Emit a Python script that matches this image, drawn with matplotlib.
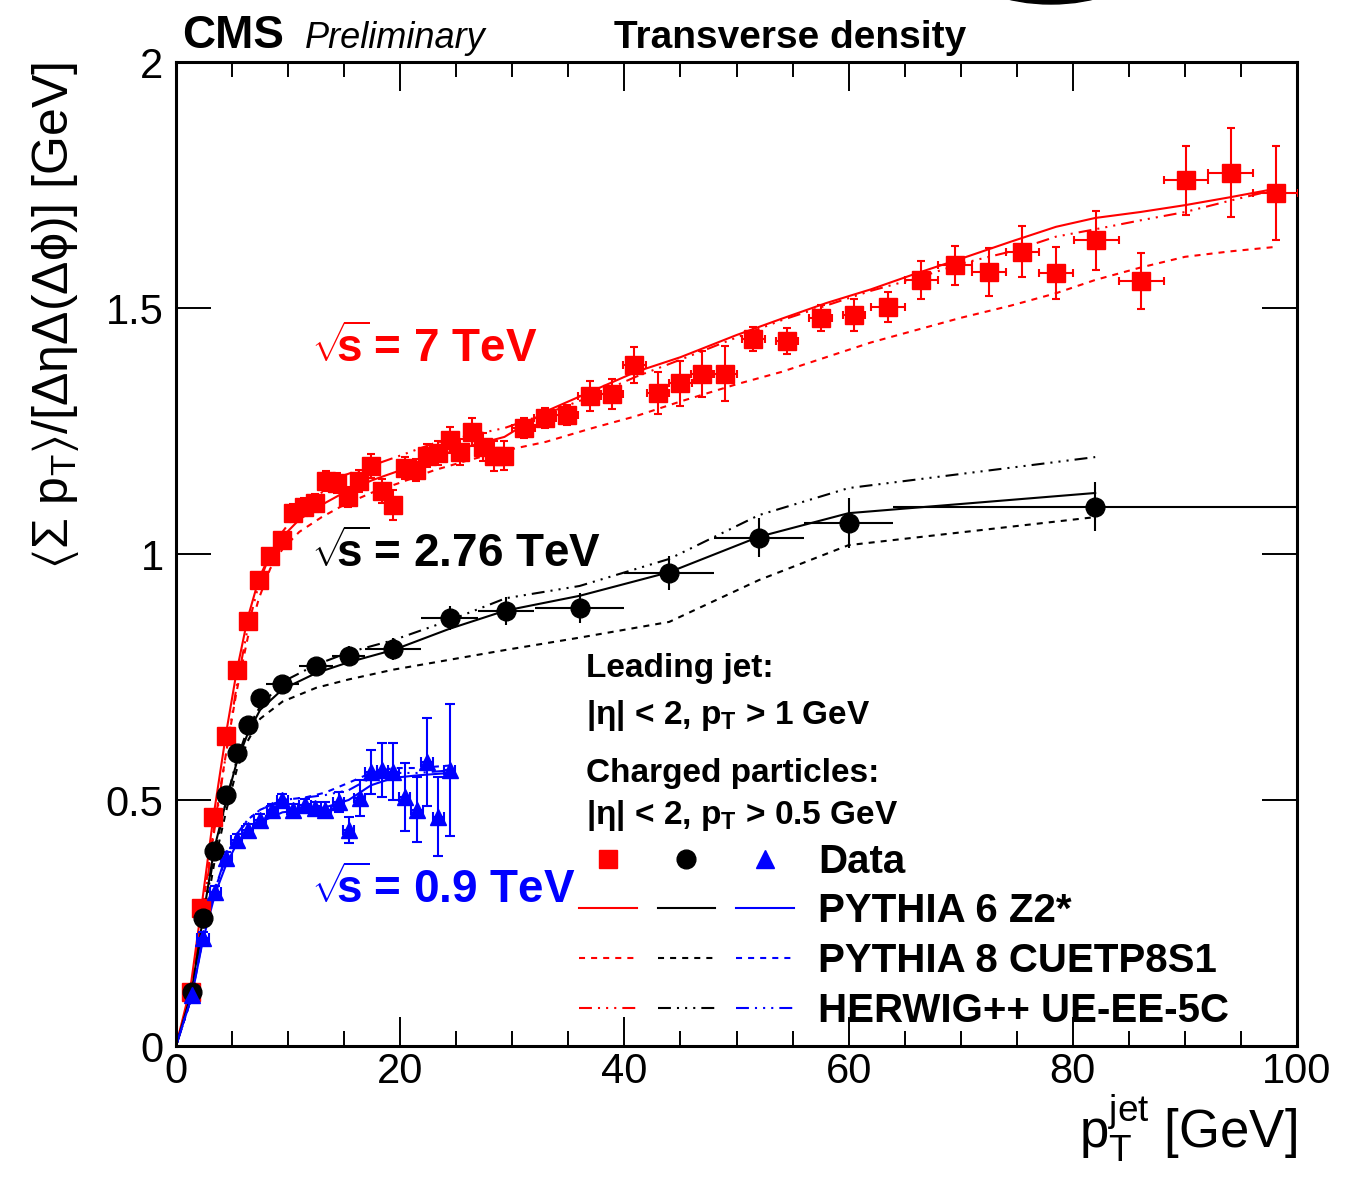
import matplotlib
matplotlib.use("Agg")
import matplotlib.pyplot as plt
from matplotlib.lines import Line2D
from matplotlib.legend_handler import HandlerTuple
from matplotlib.patches import Ellipse

plt.rcParams['font.family'] = ['Liberation Sans', 'DejaVu Sans']
plt.rcParams['mathtext.fontset'] = 'custom'
plt.rcParams['mathtext.rm'] = 'Liberation Sans'
plt.rcParams['mathtext.it'] = 'Liberation Sans:italic'
plt.rcParams['mathtext.bf'] = 'Liberation Sans:bold'
plt.rcParams['mathtext.default'] = 'regular'

# ---- data: 7 TeV (red squares)
x7 = [1.3, 2.2, 3.3, 4.5, 5.4, 6.4, 7.4, 8.4, 9.5,
      10.4, 11.4, 12.4, 13.4, 14.4, 15.3, 16.3, 17.4, 18.4, 19.4,
      20.4, 21.4, 22.4, 23.4, 24.4, 25.3, 26.4, 27.4, 28.4, 29.3,
      31.0, 32.9, 34.9, 36.9, 38.9, 40.9, 43.0, 45.0, 46.9, 49.0,
      51.5, 54.5, 57.5, 60.5, 63.5, 66.5, 69.5, 72.5, 75.5, 78.5,
      82.1, 86.1, 90.1, 94.1, 98.1]
y7 = [0.11, 0.28, 0.465, 0.63, 0.764, 0.864, 0.947, 0.996, 1.028,
      1.083, 1.096, 1.104, 1.148, 1.144, 1.116, 1.148, 1.179, 1.128, 1.10,
      1.175, 1.171, 1.20, 1.205, 1.232, 1.207, 1.248, 1.217, 1.199, 1.20,
      1.256, 1.276, 1.283, 1.321, 1.325, 1.384, 1.327, 1.347, 1.366, 1.366,
      1.437, 1.433, 1.48, 1.486, 1.502, 1.557, 1.587, 1.573, 1.614, 1.571,
      1.638, 1.555, 1.76, 1.775, 1.734]
xe7 = [0.5] * 29 + [1.0] * 14 + [1.5] * 6 + [2.0] * 5
ye7 = [0.012] * 9 + [0.018, 0.018, 0.018, 0.02, 0.02, 0.02, 0.022, 0.025, 0.025, 0.03,
       0.022, 0.022, 0.024, 0.024, 0.026, 0.026, 0.028, 0.028, 0.03, 0.03,
       0.02, 0.02, 0.02, 0.03, 0.03, 0.037, 0.042, 0.046, 0.047, 0.056,
       0.025, 0.027, 0.027, 0.032, 0.03, 0.038, 0.04, 0.048, 0.052, 0.052,
       0.06, 0.057, 0.07, 0.09, 0.095]

# ---- data: 2.76 TeV (black circles)
x276 = [1.4, 2.4, 3.4, 4.5, 5.4, 6.4, 7.5, 9.5, 12.5, 15.4, 19.4, 24.4, 29.4, 36, 44, 52, 60, 82]
y276 = [0.11, 0.26, 0.396, 0.51, 0.596, 0.652, 0.707, 0.736, 0.772, 0.793, 0.807,
        0.87, 0.884, 0.89, 0.961, 1.033, 1.063, 1.096]
xe276 = [0.5] * 7 + [1.5, 1.5, 1.5, 2.5, 2.5, 2.5, 4, 4, 4, 4, 18]
ye276 = [0.01] * 7 + [0.015, 0.017, 0.02, 0.022, 0.025, 0.028, 0.03, 0.035, 0.04, 0.05, 0.05]

# ---- data: 0.9 TeV (blue triangles)
x09 = [1.4, 2.4, 3.5, 4.5, 5.4, 6.4, 7.5, 8.6, 9.5, 10.4, 11.5, 12.4,
       13.3, 14.5, 15.4, 16.4, 17.4, 18.4, 19.4, 20.4, 21.5, 22.4, 23.4, 24.4]
y09 = [0.104, 0.22, 0.313, 0.382, 0.419, 0.439, 0.459, 0.48, 0.50, 0.48, 0.49, 0.484,
       0.48, 0.496, 0.439, 0.504, 0.557, 0.561, 0.557, 0.506, 0.48, 0.577, 0.466, 0.561]
xe09 = [0.5] * 24
ye09 = [0.012] * 12 + [0.015, 0.02, 0.027, 0.037, 0.045, 0.055, 0.058, 0.07, 0.066, 0.09, 0.08, 0.134]

# ---- models 7 TeV
mx7 = [0, 1.3, 2.2, 3.3, 4.5, 5.4, 6.4, 7.4, 8.4, 9.5, 11, 13, 15, 17.5, 20, 23, 26, 29.3,
       33, 37, 41, 45, 50, 54, 58, 62, 66, 70, 74.5, 78.5, 82, 86, 90, 94, 98]
p6_7 = [0, 0.12, 0.27, 0.46, 0.64, 0.76, 0.87, 0.95, 1.0, 1.035, 1.07, 1.1, 1.125, 1.15, 1.17,
        1.197, 1.218, 1.238, 1.29, 1.33, 1.37, 1.40, 1.445, 1.478, 1.51, 1.538, 1.57, 1.60,
        1.635, 1.665, 1.683, 1.695, 1.709, 1.725, 1.742]
p8_7 = [0, 0.11, 0.25, 0.43, 0.6, 0.72, 0.83, 0.91, 0.97, 1.01, 1.045, 1.075, 1.1, 1.125, 1.145,
        1.17, 1.19, 1.21, 1.228, 1.255, 1.28, 1.31, 1.345, 1.37, 1.4, 1.43, 1.455, 1.48,
        1.505, 1.53, 1.557, 1.582, 1.604, 1.615, 1.624]
hw_7 = [0, 0.1, 0.24, 0.42, 0.6, 0.73, 0.85, 0.94, 1.0, 1.045, 1.09, 1.125, 1.16, 1.18, 1.2,
        1.225, 1.24, 1.256, 1.285, 1.32, 1.36, 1.395, 1.44, 1.475, 1.505, 1.535, 1.56, 1.59,
        1.615, 1.645, 1.66, 1.678, 1.695, 1.718, 1.74]

# ---- models 2.76 TeV
mx276 = [0, 1.4, 2.4, 3.4, 4.5, 5.4, 6.4, 7.5, 9.5, 12.5, 15.4, 19.4, 24.4, 29.4, 36, 44, 52, 60, 82]
p6_276 = [0, 0.11, 0.26, 0.40, 0.5, 0.575, 0.635, 0.683, 0.725, 0.758, 0.78, 0.805, 0.848,
          0.885, 0.915, 0.963, 1.035, 1.083, 1.124]
p8_276 = [0, 0.1, 0.24, 0.37, 0.48, 0.56, 0.62, 0.665, 0.70, 0.728, 0.745, 0.765, 0.785,
          0.805, 0.83, 0.862, 0.947, 1.018, 1.075]
hw_276 = [0, 0.1, 0.25, 0.39, 0.5, 0.58, 0.645, 0.69, 0.74, 0.775, 0.80, 0.825, 0.865,
          0.91, 0.935, 0.99, 1.079, 1.134, 1.197]

# ---- models 0.9 TeV
mx09 = [0, 1.4, 2.4, 3.5, 4.5, 5.4, 6.4, 7.5, 9.5, 11.5, 13.3, 15.4, 17.4, 19.4, 21.5, 24.4]
p6_09 = [0, 0.1, 0.215, 0.31, 0.37, 0.41, 0.435, 0.455, 0.475, 0.48, 0.485, 0.50, 0.53,
         0.545, 0.55, 0.555]
p8_09 = [0, 0.1, 0.22, 0.32, 0.385, 0.425, 0.46, 0.48, 0.50, 0.505, 0.515, 0.535, 0.555,
         0.565, 0.565, 0.57]
hw_09 = [0, 0.1, 0.22, 0.32, 0.39, 0.43, 0.46, 0.48, 0.50, 0.505, 0.51, 0.52, 0.545,
         0.555, 0.555, 0.56]

legend_labels = ["Data", "PYTHIA 6 Z2*", "PYTHIA 8 CUETP8S1", "HERWIG++ UE-EE-5C"]

DASH = (0, (2.9, 2.9))
DDOT = (0, (6.2, 2.9, 1, 2.9, 1, 2.9, 1, 2.9))
LW = 1.5

fig = plt.figure(figsize=(13.53, 11.88), dpi=100)
ax = fig.add_axes([176 / 1353, 1 - 1046 / 1188, 1121 / 1353, 984 / 1188])

for mx, curves, col in [(mx7, (p6_7, p8_7, hw_7), 'red'),
                        (mx276, (p6_276, p8_276, hw_276), 'black'),
                        (mx09, (p6_09, p8_09, hw_09), 'blue')]:
    ax.plot(mx, curves[0], color=col, lw=LW, ls='-', zorder=2)
    ax.plot(mx, curves[1], color=col, lw=LW, ls=DASH, zorder=2)
    ax.plot(mx, curves[2], color=col, lw=LW, ls=DDOT, zorder=2)

ax.errorbar(x7, y7, xerr=xe7, yerr=ye7, fmt='s', color='red', ms=13, elinewidth=1.5,
            capsize=3, capthick=1.5, zorder=4)
ax.errorbar(x276, y276, xerr=xe276, yerr=ye276, fmt='o', color='black', ms=13.5,
            elinewidth=1.5, capsize=0, zorder=4)
ax.errorbar(x09, y09, xerr=xe09, yerr=ye09, fmt='^', color='blue', ms=11, elinewidth=1.5,
            capsize=3.5, capthick=1.5, zorder=4)

ax.set_xlim(0, 100)
ax.set_ylim(0, 2)
ax.set_xticks([0, 20, 40, 60, 80, 100])
ax.set_xticks(range(0, 101, 5), minor=True)
ax.set_yticks([0, 0.5, 1, 1.5, 2])
ax.set_yticklabels(['0', '0.5', '1', '1.5', '2'])
ax.tick_params(which='both', direction='in', top=True, right=True, width=1.4, labelsize=30)
ax.tick_params(axis='x', which='major', length=21, pad=4)
ax.tick_params(axis='x', which='minor', length=11)
ax.tick_params(axis='y', which='major', length=25, pad=9)
for s in ax.spines.values():
    s.set_linewidth(2.2)

ax.set_xlabel(r"p$_{T}^{jet}$ [GeV]", fontsize=38, loc='right')
ax.xaxis.set_label_coords(1.0, -0.047)
ax.set_ylabel(r"$\langle\Sigma$ p$_{T}\rangle$/[$\Delta\eta\Delta(\Delta\phi)$] [GeV]",
              fontsize=36, loc='top')
ax.yaxis.set_label_coords(-0.085, 1.0)

sq = r"$\sqrt{\!\!s}\,$= "
ax.text(12.0, 1.39, sq + "7 TeV", color='red', fontsize=33, fontweight='bold')
ax.text(12.0, 0.974, sq + "2.76 TeV", color='black', fontsize=33, fontweight='bold')
ax.text(12.0, 0.29, sq + "0.9 TeV", color='blue', fontsize=33, fontweight='bold')

info = ["Leading jet:", r"|$\eta$| < 2, p$_{T}$ > 1 GeV",
        "Charged particles:", r"|$\eta$| < 2, p$_{T}$ > 0.5 GeV"]
for txt, yy in zip(info, [0.75, 0.654, 0.537, 0.451]):
    ax.text(36.6, yy, txt, fontsize=24, fontweight='bold')

mk = dict(ls='none', ms=13.5)
rows = [
    (Line2D([], [], marker='s', color='red', **mk),
     Line2D([], [], marker='o', color='black', **mk),
     Line2D([], [], marker='^', color='blue', **mk)),
    tuple(Line2D([], [], color=c, lw=LW) for c in ('red', 'black', 'blue')),
    tuple(Line2D([], [], color=c, lw=LW, ls=DASH) for c in ('red', 'black', 'blue')),
    tuple(Line2D([], [], color=c, lw=LW, ls=DDOT) for c in ('red', 'black', 'blue')),
]
leg = ax.legend(rows, legend_labels, handler_map={tuple: HandlerTuple(ndivide=None, pad=0.52)},
                loc='center left', bbox_to_anchor=(0.3595, 0.1115), frameon=False,
                borderpad=0, borderaxespad=0, handlelength=5.33, handletextpad=0.6,
                labelspacing=0.29, prop={'weight': 'bold', 'size': 29})

fig.text(182 / 1353, 1 - 48 / 1188, "CMS", fontsize=33, fontweight='bold', va='baseline')
fig.text(305 / 1353, 1 - 48 / 1188, "Preliminary", fontsize=26, style='italic', va='baseline')
fig.text(614 / 1353, 1 - 48 / 1188, "Transverse density", fontsize=28, fontweight='bold',
         va='baseline')
fig.patches.append(Ellipse((1051 / 1353, 1 + 31 / 1188), 166 / 1353, 70 / 1188,
                           transform=fig.transFigure, color='black', figure=fig))

fig.savefig("out.png", dpi=100)
